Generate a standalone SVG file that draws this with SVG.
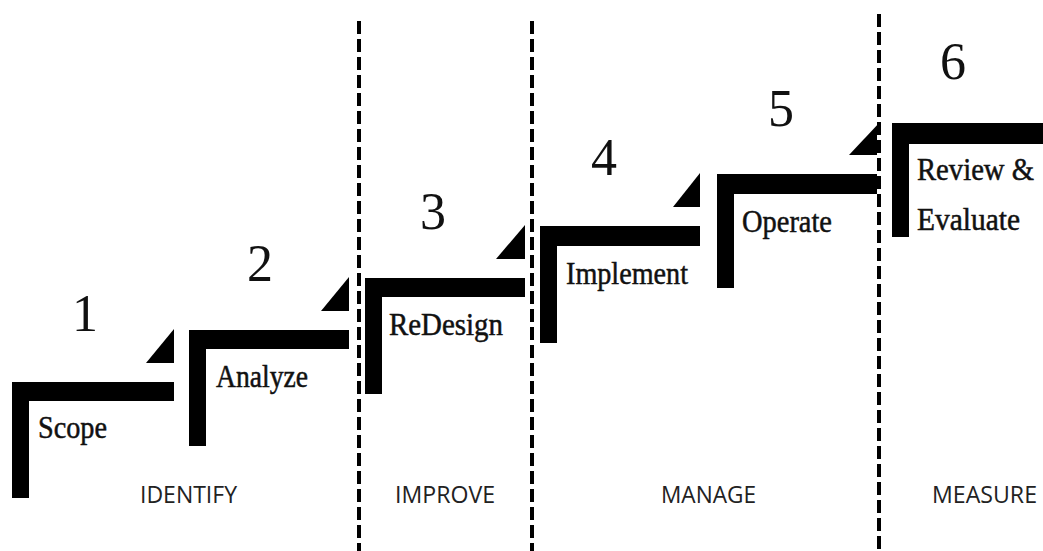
<svg xmlns="http://www.w3.org/2000/svg" width="1043" height="551" viewBox="0 0 1043 551">
<style>
.bar{fill:#000}
.num{font-family:"Liberation Serif","Times New Roman",serif;font-size:52px;fill:#111;text-anchor:middle}
.lbl{font-family:"Liberation Serif","Times New Roman",serif;font-size:31px;fill:#111;stroke:#111;stroke-width:0.5}
.phase{font-family:"Open Sans","Liberation Sans",sans-serif;font-size:24px;fill:#222}
.under{stroke:#fff;stroke-width:4;fill:none}
.dash{stroke:#000;stroke-width:4;stroke-dasharray:13 5;fill:none}
</style>
<rect width="1043" height="551" fill="#fff"/>
<g id="step1">
<path class="bar" d="M12 382 H174 V401 H29 V498 H12 Z"/>
<path class="bar" d="M146 363 L174 329 V363 Z"/>
<text class="num" x="85" y="331">1</text>
<text class="lbl" x="38" y="438" textLength="69" lengthAdjust="spacingAndGlyphs">Scope</text>
</g>
<g id="step2">
<path class="bar" d="M189 330 H349 V349 H206 V446 H189 Z"/>
<path class="bar" d="M321 311 L349 277 V311 Z"/>
<text class="num" x="260" y="281">2</text>
<text class="lbl" x="216" y="387" textLength="92" lengthAdjust="spacingAndGlyphs">Analyze</text>
</g>
<g id="step3">
<path class="bar" d="M365 278 H525 V297 H382 V394 H365 Z"/>
<path class="bar" d="M496 259 L525 225 V259 Z"/>
<text class="num" x="433" y="229">3</text>
<text class="lbl" x="389" y="335" textLength="114" lengthAdjust="spacingAndGlyphs">ReDesign</text>
</g>
<g id="step4">
<path class="bar" d="M540 226 H700 V246 H557 V343 H540 Z"/>
<path class="bar" d="M673 207 L700 173 V207 Z"/>
<text class="num" x="604" y="175">4</text>
<text class="lbl" x="566" y="284" textLength="122" lengthAdjust="spacingAndGlyphs">Implement</text>
</g>
<g id="step5">
<path class="bar" d="M717 174 H880 V194 H734 V288 H717 Z"/>
<path class="bar" d="M849 155 L880 122 V155 Z"/>
<text class="num" x="781" y="126">5</text>
<text class="lbl" x="742" y="232" textLength="90" lengthAdjust="spacingAndGlyphs">Operate</text>
</g>
<g id="step6">
<path class="bar" d="M892 123 H1043 V144 H909 V237 H892 Z"/>
<text class="num" x="953" y="79">6</text>
<text class="lbl" x="917" y="180" textLength="117" lengthAdjust="spacingAndGlyphs">Review &amp;</text>
<text class="lbl" x="917" y="230" textLength="103" lengthAdjust="spacingAndGlyphs">Evaluate</text>
</g>
<g id="connectors">
<line class="under" x1="359" y1="21" x2="359" y2="551"/>
<line class="dash" x1="359" y1="21" x2="359" y2="551"/>
<line class="under" x1="532" y1="21" x2="532" y2="551"/>
<line class="dash" x1="532" y1="21" x2="532" y2="551"/>
<line class="under" x1="879" y1="14" x2="879" y2="551"/>
<line class="dash" x1="879" y1="14" x2="879" y2="551"/>
</g>
<g id="phases">
<text class="phase" x="140" y="503" textLength="97" lengthAdjust="spacingAndGlyphs">IDENTIFY</text>
<text class="phase" x="395" y="503" textLength="100" lengthAdjust="spacingAndGlyphs">IMPROVE</text>
<text class="phase" x="661" y="503" textLength="95" lengthAdjust="spacingAndGlyphs">MANAGE</text>
<text class="phase" x="932" y="503" textLength="105" lengthAdjust="spacingAndGlyphs">MEASURE</text>
</g>
</svg>
